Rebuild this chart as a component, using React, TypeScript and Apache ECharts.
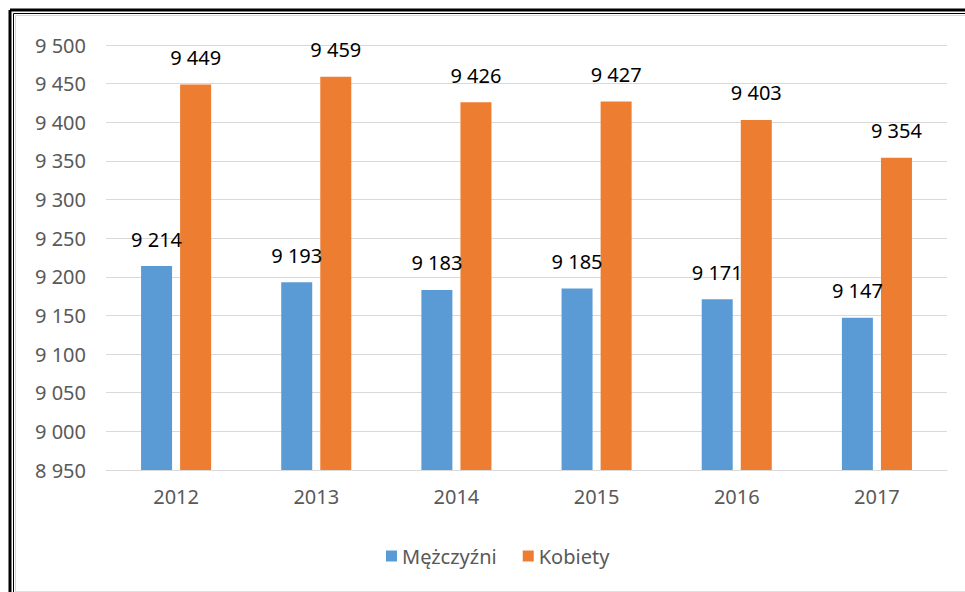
import React, { useEffect, useRef } from "react";
import * as echarts from "echarts";

const categories = ["2012", "2013", "2014", "2015", "2016", "2017"];
const men = [9214, 9193, 9183, 9185, 9171, 9147];
const women = [9449, 9459, 9426, 9427, 9403, 9354];
const seriesNames = ["Mężczyźni", "Kobiety"];

const fmt = (v: number) => {
  const s = String(Math.round(v));
  return s.replace(/\B(?=(\d{3})+(?!\d))/g, " ");
};

const FONT = "'Noto Sans', 'Open Sans', sans-serif";
const FS = 20;

export default function App() {
  const ref = useRef<HTMLDivElement>(null);
  useEffect(() => {
    if (!ref.current) return;
    const chart = echarts.init(ref.current, null, { renderer: "svg" });
    const label = {
      show: true,
      position: "top",
      distance: 17,
      color: "#000000",
      fontSize: FS,
      fontFamily: FONT,
      formatter: (p: any) => fmt(p.value),
    };
    chart.setOption({
      animation: false,
      backgroundColor: "#ffffff",
      textStyle: { fontFamily: FONT },
      grid: { left: 106, right: 18, top: 45, bottom: 122, containLabel: false },
      legend: {
        data: seriesNames,
        left: 381,
        top: 541,
        itemWidth: 11,
        itemHeight: 11,
        itemGap: 26,
        icon: "rect",
        textStyle: { color: "#595959", fontSize: FS, fontFamily: FONT },
      },
      xAxis: {
        type: "category",
        data: categories,
        axisLine: { lineStyle: { color: "#D9D9D9", width: 1 } },
        axisTick: { show: false },
        axisLabel: { color: "#595959", fontSize: FS, margin: 16, fontFamily: FONT },
      },
      yAxis: {
        type: "value",
        min: 8950,
        max: 9500,
        interval: 50,
        axisLine: { show: false },
        axisTick: { show: false },
        splitLine: { lineStyle: { color: "#D9D9D9", width: 1 } },
        axisLabel: {
          color: "#595959",
          fontSize: FS,
          margin: 20,
          fontFamily: FONT,
          formatter: (v: number) => fmt(v),
        },
      },
      series: [
        {
          name: seriesNames[0],
          type: "bar",
          data: men,
          barWidth: 31,
          barGap: "26%",
          itemStyle: { color: "#5B9BD5" },
          label,
        },
        {
          name: seriesNames[1],
          type: "bar",
          data: women,
          barWidth: 31,
          barGap: "26%",
          itemStyle: { color: "#ED7D31" },
          label,
        },
      ],
      graphic: [
        { type: "line", shape: { x1: 10, y1: 10, x2: 965, y2: 10 }, style: { stroke: "#000", lineWidth: 3 } },
        { type: "line", shape: { x1: 10, y1: 10, x2: 10, y2: 592 }, style: { stroke: "#000", lineWidth: 3 } },
        { type: "line", shape: { x1: 13.5, y1: 13.5, x2: 965, y2: 13.5 }, style: { stroke: "#000", lineWidth: 1 } },
        { type: "line", shape: { x1: 13.5, y1: 13.5, x2: 13.5, y2: 592 }, style: { stroke: "#000", lineWidth: 1 } },
        { type: "line", shape: { x1: 15.5, y1: 15.5, x2: 965, y2: 15.5 }, style: { stroke: "#D9D9D9", lineWidth: 1 } },
        { type: "line", shape: { x1: 15.5, y1: 15.5, x2: 15.5, y2: 592 }, style: { stroke: "#D9D9D9", lineWidth: 1 } },
        { type: "line", shape: { x1: 15.5, y1: 591.5, x2: 965, y2: 591.5 }, style: { stroke: "#E0E0E0", lineWidth: 1 } },
      ],
    });
    return () => chart.dispose();
  }, []);
  return (
    <div
      ref={ref}
      style={{ position: "absolute", left: 0, top: 0, width: 965, height: 592 }}
    />
  );
}
